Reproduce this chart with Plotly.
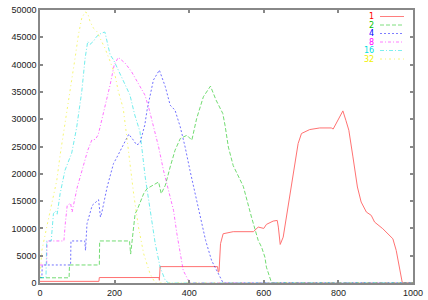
import plotly.graph_objects as go

# ---- data ----
names = ["1", "2", "4", "8", "16", "32"]

x1 = [0, 158, 159, 319, 320, 322, 476, 478, 480, 484, 491, 518, 572, 585, 600, 607, 625, 636, 639, 644,
      652, 665, 679, 692, 701, 723, 750, 781, 786, 796, 803, 812, 820, 828, 839, 851, 861, 875, 888,
      897, 919, 933, 946, 955, 964, 971, 975, 1000]
y1 = [300, 300, 1000, 1000, 500, 3000, 3000, 2000, 2100, 7190, 9020, 9400, 9400, 10240, 10000, 10730,
      11340, 11460, 10240, 7060, 8400, 13910, 19410, 25540, 27380, 28100, 28400, 28400, 28200, 29500,
      30400, 31520, 29800, 27980, 23090, 17580, 14830, 12990, 12390, 11160, 9940, 9020, 8100, 5960,
      2900, 150, 0, 0]

x2 = [0, 78, 79, 159, 160, 240, 243, 255, 260, 278, 287, 295, 318, 325, 336, 349, 362, 376, 394, 407,
      420, 438, 457, 472, 490, 496, 505, 518, 545, 567, 585, 594, 603, 607, 612, 621, 1000]
y2 = [950, 950, 3300, 3300, 7700, 7700, 5300, 12700, 13300, 16370, 17280, 17580, 18500, 16370, 17900,
      21250, 24300, 26450, 27060, 26150, 30130, 34100, 36050, 33500, 31050, 28900, 24900, 21500,
      17700, 12070, 7800, 6570, 4730, 2900, 1690, 0, 0]

x4 = [0, 5, 6, 82, 83, 120, 122, 126, 140, 157, 162, 166, 180, 197, 206, 211, 223, 238, 250, 259, 268,
      281, 287, 304, 320, 336, 349, 362, 376, 389, 402, 416, 429, 444, 460, 478, 491, 1000]
y4 = [1000, 1000, 3300, 3300, 7700, 7700, 5960, 10860, 14220, 15260, 12070, 13000, 17580, 21870, 23000,
      23700, 25290, 27250, 26200, 25290, 25600, 28950, 31650, 37160, 38990, 35930, 32570, 31650,
      28590, 24920, 20640, 16370, 12070, 7800, 4130, 1690, 0, 0]

x8 = [0, 18, 19, 45, 64, 68, 73, 82, 86, 100, 117, 121, 128, 139, 148, 156, 174, 188, 199, 210, 228,
      245, 263, 281, 291, 304, 318, 331, 344, 358, 367, 376, 384, 398, 402, 1000]
y8 = [3300, 3300, 7700, 7700, 7700, 11000, 14220, 14600, 13000, 17580, 21500, 22840, 24300, 26200,
      26300, 27120, 32020, 36300, 39960, 41320, 40280, 38750, 36600, 34460, 32260, 28590, 24920,
      20640, 16970, 13300, 9020, 5350, 2290, 460, 0, 0]

x16 = [0, 16, 18, 30, 36, 42, 46, 54, 67, 85, 98, 112, 121, 128, 134, 143, 152, 165, 174, 179, 188,
       197, 210, 228, 241, 254, 268, 282, 295, 309, 322, 336, 345, 1000]
y16 = [1000, 1000, 7700, 7700, 12700, 13200, 12600, 16370, 20640, 23800, 28350, 35080, 41190, 44250,
       43700, 44250, 45170, 45780, 45960, 44250, 41800, 40880, 39050, 36300, 34460, 30790, 27740,
       19410, 13300, 7190, 2900, 460, 0, 0]

x32 = [0, 2, 5, 18, 32, 45, 54, 67, 81, 94, 103, 112, 121, 128, 134, 143, 152, 165, 174, 188, 201,
       210, 223, 232, 238, 251, 264, 278, 295, 309, 1000]
y32 = [1000, 3300, 5960, 10240, 14530, 18800, 23450, 28950, 35080, 41190, 45470, 48530, 49630, 49400,
       47920, 46700, 46090, 44250, 43030, 40590, 38130, 35080, 32020, 27120, 23450, 16370, 10240,
       5350, 1690, 0, 0]

xs = [x1, x2, x4, x8, x16, x32]
ys = [y1, y2, y4, y8, y16, y32]

colors = ["#ff0000", "#00c000", "#0000ff", "#ff00ff", "#00e0e0", "#f0f000"]
dashes = ["solid", "4px,2px", "2px,2px", "3px,2px,1px,2px", "4px,2px,1px,2px", "2px,3px,1px,3px"]

fig = go.Figure()
for n, x, y, c, d in zip(names, xs, ys, colors, dashes):
    fig.add_trace(go.Scatter(x=x, y=y, mode="lines", name=n, showlegend=False,
                             line=dict(color=c, width=1, dash=d), opacity=0.55))

W, H = 428, 300
L, R, T, B = 40, 15, 10, 17
pw, ph = W - L - R, H - T - B

def px(xp):
    return (xp - L) / pw

def py(yp):
    return (H - B - yp) / ph

legend_rows = [16.5, 25, 33.5, 42, 50.5, 59]
for n, c, d, yr in zip(names, colors, dashes, legend_rows):
    fig.add_annotation(x=px(376), y=py(yr), xref="paper", yref="paper", text=n, showarrow=False,
                       xanchor="right", yanchor="middle",
                       font=dict(family="DejaVu Sans", size=8, color=c))
    fig.add_shape(type="line", xref="paper", yref="paper", x0=px(380), x1=px(404),
                  y0=py(yr), y1=py(yr), line=dict(color=c, width=1, dash=d), opacity=0.5)

axis_common = dict(showgrid=False, zeroline=False, showline=True, linecolor="#888888", linewidth=1.5,
                   mirror="ticks", ticks="inside", ticklen=3, tickcolor="#888888", tickwidth=1.5,
                   automargin=False, tickformat="d",
                   tickfont=dict(family="Liberation Sans", size=9, color="#222222"))

fig.update_xaxes(range=[0, 1000], tickvals=[0, 200, 400, 600, 800, 1000], **axis_common)
fig.update_yaxes(range=[0, 50000], tickvals=list(range(0, 50001, 5000)), **axis_common)

fig.update_layout(width=W, height=H, margin=dict(l=L, r=R, t=T, b=B),
                  plot_bgcolor="white", paper_bgcolor="white")

fig.write_html("out.html", config={"displayModeBar": False},
               post_script="document.body.style.margin='0';document.body.style.overflow='hidden';")
